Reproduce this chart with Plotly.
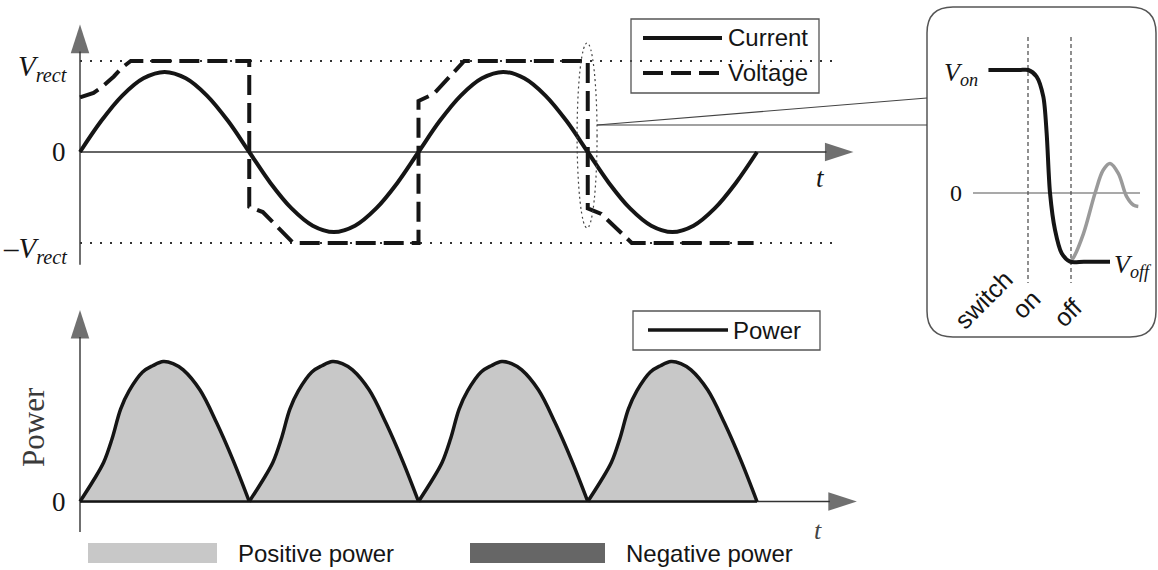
import plotly.graph_objects as go

W, H = 1158, 570

# ---------------- data ----------------
# top panel: time in half-periods, amplitude in units of V_rect
cur_t = [0.000, 0.125, 0.250, 0.375, 0.500, 0.625, 0.750, 0.875,
         1.000, 1.125, 1.250, 1.375, 1.500, 1.625, 1.750, 1.875,
         2.000, 2.125, 2.250, 2.375, 2.500, 2.625, 2.750, 2.875,
         3.000, 3.125, 3.250, 3.375, 3.500, 3.625, 3.750, 3.875, 4.000]
cur_v = [0.00, 0.34, 0.62, 0.81, 0.88, 0.81, 0.62, 0.34,
         0.00, -0.34, -0.62, -0.81, -0.88, -0.81, -0.62, -0.34,
         0.00, 0.34, 0.62, 0.81, 0.88, 0.81, 0.62, 0.34,
         0.00, -0.34, -0.62, -0.81, -0.88, -0.81, -0.62, -0.34, 0.00]

volt_t = [0.00, 0.04, 0.08, 0.12, 0.16, 0.20, 0.25, 0.30, 1.00,
          1.00, 1.04, 1.08, 1.26, 2.00,
          2.00, 2.04, 2.09, 2.27, 3.00,
          3.00, 3.04, 3.08, 3.26, 3.98]
volt_v = [0.60, 0.62, 0.65, 0.70, 0.76, 0.83, 0.93, 1.00, 1.00,
          -0.60, -0.63, -0.66, -1.00, -1.00,
          0.56, 0.60, 0.64, 1.00, 1.00,
          -0.62, -0.65, -0.68, -1.00, -1.00]

vrect_t = [0.0, 4.45]
vrect_levels = [1.0, -1.0]

# bottom panel: normalised power, one list per hump
p1_t = [0.000, 0.079, 0.140, 0.190, 0.240, 0.290, 0.370, 0.430, 0.492, 0.550, 0.610, 0.709, 0.808, 0.906, 1.000]
p2_t = [1.000, 1.079, 1.140, 1.190, 1.240, 1.290, 1.370, 1.430, 1.492, 1.550, 1.610, 1.709, 1.808, 1.906, 2.000]
p3_t = [2.000, 2.079, 2.140, 2.190, 2.240, 2.290, 2.370, 2.430, 2.492, 2.550, 2.610, 2.709, 2.808, 2.906, 3.000]
p4_t = [3.000, 3.079, 3.140, 3.190, 3.240, 3.290, 3.370, 3.430, 3.492, 3.550, 3.610, 3.709, 3.808, 3.906, 4.000]
p1_v = [0.00, 0.15, 0.28, 0.45, 0.66, 0.79, 0.925, 0.97, 1.00, 0.985, 0.94, 0.796, 0.56, 0.29, 0.00]
p2_v = [0.00, 0.15, 0.28, 0.45, 0.66, 0.79, 0.925, 0.97, 1.00, 0.985, 0.94, 0.796, 0.56, 0.29, 0.00]
p3_v = [0.00, 0.15, 0.28, 0.45, 0.66, 0.79, 0.925, 0.97, 1.00, 0.985, 0.94, 0.796, 0.56, 0.29, 0.00]
p4_v = [0.00, 0.15, 0.28, 0.45, 0.66, 0.79, 0.925, 0.97, 1.00, 0.985, 0.94, 0.796, 0.56, 0.29, 0.00]
base_t = [0.0, 4.0]
base_v = [0.0, 0.0]

# inset: switching transient (switch on at s=0, off at s=1), V_on = 1
sw_t = [-0.92, -0.20, 0.007, 0.20, 0.356, 0.434, 0.512, 0.628, 0.783, 0.977, 1.30, 1.907]
sw_v = [1.00, 1.00, 1.00, 0.946, 0.783, 0.485, 0.00, -0.30, -0.49, -0.558, -0.558, -0.558]
ring_t = [1.00, 1.05, 1.29, 1.56, 1.75, 1.907, 2.10, 2.295, 2.45, 2.565]
ring_v = [-0.55, -0.53, -0.33, 0.00, 0.187, 0.24, 0.16, -0.03, -0.098, -0.11]
switch_marks = [0.0, 1.0]
inset_zero_t = [-1.279, 2.605]
inset_zero_v = [0.0, 0.0]

# axis arrows (tail -> tip) in each panel's units
top_yaxis_t, top_yaxis_v = [0.0, 0.0], [-1.24, 1.40]
top_xaxis_t, top_xaxis_v = [0.0, 4.57], [0.0, 0.0]
bot_yaxis_t, bot_yaxis_v = [0.0, 0.0], [-0.218, 1.368]
bot_xaxis_t, bot_xaxis_v = [0.0, 4.59], [0.0, 0.0]

# ---------------- helpers ----------------
def PX(x):
    return x / W


def PY(y):
    return 1 - y / H


INK = '#151515'
AX = '#333333'
SERIF = 'Liberation Serif, Times New Roman, serif'
SANS = 'Liberation Sans, Arial, sans-serif'

fig = go.Figure()

# axis arrows
for tx, ty, ya in [(top_yaxis_t, top_yaxis_v, 'y'),
                   (top_xaxis_t, top_xaxis_v, 'y'),
                   (bot_yaxis_t, bot_yaxis_v, 'y2'),
                   (bot_xaxis_t, bot_xaxis_v, 'y2')]:
    fig.add_trace(go.Scatter(x=tx, y=ty, mode='lines+markers', xaxis='x', yaxis=ya,
                             line=dict(color=AX, width=1.4),
                             marker=dict(symbol=['circle', 'arrow'], size=[0, 30], color=AX,
                                         angleref='previous', line=dict(width=0)),
                             hoverinfo='skip'))

# top panel
for lv in vrect_levels:
    fig.add_trace(go.Scatter(x=vrect_t, y=[lv, lv], mode='lines',
                             line=dict(color='#333', width=2, dash='2px,8px'),
                             xaxis='x', yaxis='y', hoverinfo='skip'))
fig.add_trace(go.Scatter(x=cur_t, y=cur_v, mode='lines', name='Current',
                         line=dict(color=INK, width=4, shape='spline'),
                         xaxis='x', yaxis='y'))
fig.add_trace(go.Scatter(x=volt_t, y=volt_v, mode='lines', name='Voltage',
                         line=dict(color=INK, width=4, dash='20px,8px'),
                         xaxis='x', yaxis='y'))

# bottom panel
for tt, vv in [(p1_t, p1_v), (p2_t, p2_v), (p3_t, p3_v), (p4_t, p4_v)]:
    fig.add_trace(go.Scatter(x=tt, y=vv, mode='lines', fill='tozeroy',
                             fillcolor='#c8c8c8',
                             line=dict(color=INK, width=3.5, shape='spline'),
                             xaxis='x', yaxis='y2', name='Power'))
fig.add_trace(go.Scatter(x=base_t, y=base_v, mode='lines',
                         line=dict(color=INK, width=2.5), xaxis='x', yaxis='y2'))

# inset
fig.add_trace(go.Scatter(x=inset_zero_t, y=inset_zero_v, mode='lines',
                         line=dict(color='#555', width=1.2), xaxis='x2', yaxis='y3'))
for s in switch_marks:
    fig.add_trace(go.Scatter(x=[s, s], y=[1.268, -0.732], mode='lines',
                             line=dict(color='#555', width=1.3, dash='4px,3px'),
                             xaxis='x2', yaxis='y3'))
fig.add_trace(go.Scatter(x=ring_t, y=ring_v, mode='lines',
                         line=dict(color='#9a9a9a', width=3.5, shape='spline'),
                         xaxis='x2', yaxis='y3'))
fig.add_trace(go.Scatter(x=sw_t, y=sw_v, mode='lines',
                         line=dict(color=INK, width=4, shape='spline', smoothing=0.8),
                         xaxis='x2', yaxis='y3'))

# ---------------- axes ----------------
ax_common = dict(visible=False, showgrid=False, zeroline=False, fixedrange=True)
fig.update_layout(
    width=W, height=H, margin=dict(l=0, r=0, t=0, b=0),
    paper_bgcolor='white', plot_bgcolor='rgba(0,0,0,0)', showlegend=False,
    xaxis=dict(domain=[0, 1], range=[-80 / 169.25, 1078 / 169.25], anchor='y', **ax_common),
    yaxis=dict(domain=[0.5, 1], range=[-133 / 91, 152 / 91], anchor='x', **ax_common),
    yaxis2=dict(domain=[0, 0.5], range=[-68.5 / 140, 216.5 / 140], anchor='x', **ax_common),
    xaxis2=dict(domain=[926.4 / W, 1], range=[(926.4 - 1028) / 43, 130 / 43], anchor='y3', **ax_common),
    yaxis3=dict(domain=[0.4, 1], range=[-149 / 123, 193 / 123], anchor='x2', **ax_common),
)

annotations = []


def txt(x, y, s, size, family=SERIF, xanchor='center', color=INK, angle=0):
    annotations.append(dict(x=PX(x), y=PY(y), xref='paper', yref='paper', text=s,
                            showarrow=False, xanchor=xanchor, yanchor='middle',
                            textangle=angle, font=dict(size=size, family=family, color=color)))


# top panel labels
txt(70, 68, '<i>V</i><sub><i>rect</i></sub>', 29, xanchor='right')
txt(68, 152, '0', 27, xanchor='right')
txt(70, 250, '–<i>V</i><sub><i>rect</i></sub>', 29, xanchor='right')
txt(820, 178, '<i>t</i>', 27)

# bottom panel labels
txt(33, 427, 'Power', 31, color='#3a3a3a', angle=-90)
txt(68, 502, '0', 27, xanchor='right')
txt(818, 530, '<i>t</i>', 26, color='#444')

# inset labels
txt(980, 74, '<i>V</i><sub><i>on</i></sub>', 26, xanchor='right')
txt(964, 193, '0', 24, xanchor='right')
txt(1112, 266, '<i>V</i><sub><i>off</i></sub>', 26, xanchor='left')
txt(983, 300, 'switch', 25, family=SANS, angle=-45)
txt(1026, 304, 'on', 25, family=SANS, angle=-45)
txt(1067, 313, 'off', 25, family=SANS, angle=-45)

# legends (drawn manually)
txt(726, 38, 'Current', 24, family=SANS, xanchor='left')
txt(726, 73, 'Voltage', 24, family=SANS, xanchor='left')
txt(731, 330, 'Power', 24, family=SANS, xanchor='left')
txt(236, 553, 'Positive power', 24, family=SANS, xanchor='left')
txt(624, 553, 'Negative power', 24, family=SANS, xanchor='left')

shapes = []
# legend boxes
shapes.append(dict(type='rect', xref='paper', yref='paper', x0=PX(631), x1=PX(819), y0=PY(93), y1=PY(19),
                   line=dict(color='#555', width=1.3), fillcolor='rgba(0,0,0,0)'))
shapes.append(dict(type='line', xref='paper', yref='paper', x0=PX(643), x1=PX(722), y0=PY(38), y1=PY(38),
                   line=dict(color=INK, width=4)))
shapes.append(dict(type='line', xref='paper', yref='paper', x0=PX(643), x1=PX(722), y0=PY(73), y1=PY(73),
                   line=dict(color=INK, width=4, dash='20px,8px')))
shapes.append(dict(type='rect', xref='paper', yref='paper', x0=PX(633), x1=PX(820), y0=PY(350), y1=PY(311),
                   line=dict(color='#555', width=1.3), fillcolor='rgba(0,0,0,0)'))
shapes.append(dict(type='line', xref='paper', yref='paper', x0=PX(648), x1=PX(728), y0=PY(330), y1=PY(330),
                   line=dict(color=INK, width=3.5)))
shapes.append(dict(type='rect', xref='paper', yref='paper', x0=PX(88), x1=PX(217), y0=PY(563), y1=PY(543),
                   line=dict(width=0), fillcolor='#c8c8c8'))
shapes.append(dict(type='rect', xref='paper', yref='paper', x0=PX(470), x1=PX(605), y0=PY(563), y1=PY(543),
                   line=dict(width=0), fillcolor='#666666'))

# ellipse around the switching instant
shapes.append(dict(type='circle', xref='x', yref='y', x0=2.937, x1=3.055, y0=-0.835, y1=1.198,
                   line=dict(color='#444', width=1.2, dash='2px,3px')))
# connector lines
shapes.append(dict(type='line', xref='paper', yref='paper', x0=PX(597), y0=PY(125), x1=PX(927), y1=PY(98),
                   line=dict(color='#444', width=1.2)))
shapes.append(dict(type='line', xref='paper', yref='paper', x0=PX(597), y0=PY(125), x1=PX(927), y1=PY(125),
                   line=dict(color='#444', width=1.2)))
# rounded inset frame
x0, x1, yb, yt = PX(927), PX(1156), PY(337), PY(7)
rx, ry = 26 / W, 26 / H
path = (f"M {x0+rx},{yt} L {x1-rx},{yt} Q {x1},{yt} {x1},{yt-ry} L {x1},{yb+ry} "
        f"Q {x1},{yb} {x1-rx},{yb} L {x0+rx},{yb} Q {x0},{yb} {x0},{yb+ry} "
        f"L {x0},{yt-ry} Q {x0},{yt} {x0+rx},{yt} Z")
shapes.append(dict(type='path', xref='paper', yref='paper', path=path,
                   line=dict(color='#555', width=1.5), fillcolor='rgba(0,0,0,0)', layer='below'))

fig.update_layout(annotations=annotations, shapes=shapes)
fig.write_html('out.html')
